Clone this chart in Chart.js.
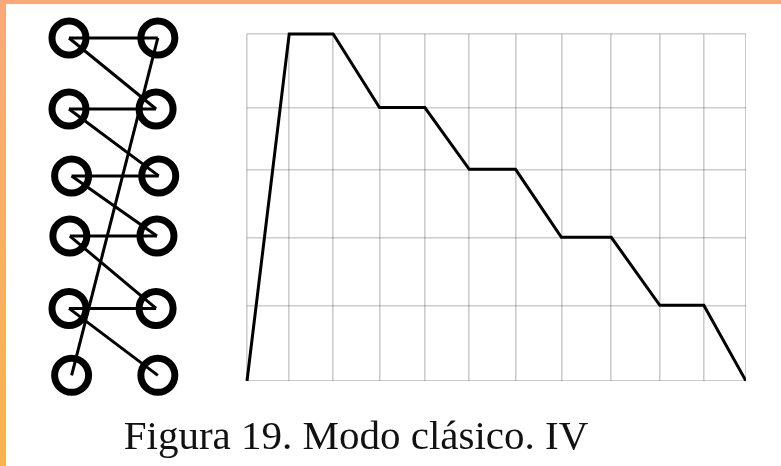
<!DOCTYPE html>
<html>
<head>
<meta charset="utf-8">
<script src="https://cdn.jsdelivr.net/npm/chart.js@4.4.1/dist/chart.umd.min.js"></script>
<style>
    html, body { margin: 0; padding: 0; background: #fff; }
    #page { position: relative; width: 781px; height: 466px; overflow: hidden; background: #fff; }
    #topBar { position: absolute; left: 0; top: 0; width: 781px; height: 4px; background: #f9a978; }
    #leftBar { position: absolute; left: 0; top: 0; width: 6px; height: 466px; background: linear-gradient(#f9a978, #f8b44b); }
    #diagramWrap { position: absolute; left: 0; top: 0; width: 230px; height: 466px; }
    #chartWrap { position: absolute; left: 237px; top: 24px; width: 509px; height: 357px; }
    #caption { position: absolute; left: 0; top: 415px; width: 712px; text-align: center; line-height: 41px;
        font-family: "Liberation Serif", "DejaVu Serif", serif; font-size: 41px; color: #111; white-space: nowrap; }
</style>
</head>
<body>
<div id="page">
    <div id="topBar"></div>
    <div id="leftBar"></div>
    <div id="diagramWrap"><canvas id="diagram"></canvas></div>
    <div id="chartWrap"><canvas id="myChart"></canvas></div>
    <div id="caption">Figura 19. Modo clásico. IV</div>
</div>
<script>
// Gráfica: posiciones de la rejilla y valores de la línea
const gridX = [0, 0.93, 1.90, 2.92, 3.92, 4.90, 5.92, 6.93, 8.03, 9.10, 10.07, 11];
const gridY = [0, 1.09, 2.07, 3.05, 3.94, 5];
const lineY = [0, 5, 5, 3.94, 3.94, 3.05, 3.05, 2.07, 2.07, 1.09, 1.09, 0];

// Diagrama: dos columnas de nodos en seis filas
const rowY = [0, 1.05, 2.04, 2.93, 4.0, 4.99];
const leftX = [0, 0, 0.03, 0.01, 0, 0.03];
const rightX = [1.01, 0.99, 1.02, 1.0, 0.99, 1.01];

function buildSegments() {
    const segs = [];
    for (let i = 0; i < 5; i++) {
        // horizontal en la fila
        segs.push([{ x: leftX[i], y: rowY[i] }, { x: rightX[i], y: rowY[i] }]);
        // diagonal a la fila siguiente
        segs.push([{ x: leftX[i], y: rowY[i] }, { x: rightX[i + 1], y: rowY[i + 1] }]);
    }
    // línea larga de arriba a la derecha hasta abajo a la izquierda
    segs.push([{ x: rightX[0], y: rowY[0] }, { x: leftX[5], y: rowY[5] }]);
    return segs;
}

function drawDiagram() {
    const ctx = document.getElementById('diagram').getContext('2d');
    const nodes = [];
    for (let i = 0; i < rowY.length; i++) {
        nodes.push({ x: leftX[i], y: rowY[i] });
        nodes.push({ x: rightX[i], y: rowY[i] });
    }
    const datasets = buildSegments().map(seg => ({
        data: seg,
        showLine: true,
        borderColor: '#000',
        borderWidth: 3,
        pointRadius: 0,
        clip: false
    }));
    datasets.push({
        data: nodes,
        showLine: false,
        pointStyle: 'circle',
        pointRadius: 17,
        pointBorderWidth: 7,
        pointBorderColor: '#000',
        pointBackgroundColor: 'rgba(0,0,0,0)',
        pointHoverRadius: 17,
        clip: false
    });
    new Chart(ctx, {
        type: 'scatter',
        data: { datasets: datasets },
        options: {
            responsive: true,
            maintainAspectRatio: false,
            animation: false,
            layout: { padding: 0, autoPadding: false },
            plugins: { legend: { display: false }, tooltip: { enabled: false } },
            scales: {
                x: { type: 'linear', display: false, min: -0.784, max: 1.830 },
                y: { type: 'linear', display: false, min: -0.562, max: 6.331, reverse: true }
            }
        }
    });
}

function drawChart() {
    const ctx = document.getElementById('myChart').getContext('2d');
    const gridStyle = { color: 'rgba(0,0,0,0.2)', lineWidth: 1.6, drawTicks: false };
    new Chart(ctx, {
        type: 'line',
        data: {
            datasets: [{
                data: gridX.map((x, i) => ({ x: x, y: lineY[i] })),
                borderColor: '#000',
                borderWidth: 3,
                pointRadius: 0,
                tension: 0,
                clip: false
            }]
        },
        options: {
            responsive: true,
            maintainAspectRatio: false,
            animation: false,
            layout: { padding: { left: 10, right: 0, top: 10, bottom: 0 }, autoPadding: false },
            plugins: { legend: { display: false }, tooltip: { enabled: false } },
            scales: {
                x: {
                    type: 'linear', min: 0, max: 11,
                    grid: gridStyle,
                    border: { display: false },
                    ticks: { display: false },
                    afterBuildTicks: axis => { axis.ticks = gridX.map(v => ({ value: v })); },
                    afterFit: axis => { axis.height = 0; }
                },
                y: {
                    type: 'linear', min: 0, max: 5,
                    grid: gridStyle,
                    border: { display: false },
                    ticks: { display: false },
                    afterBuildTicks: axis => { axis.ticks = gridY.map(v => ({ value: v })); },
                    afterFit: axis => { axis.width = 0; }
                }
            }
        }
    });
}

drawDiagram();
drawChart();
</script>
</body>
</html>
